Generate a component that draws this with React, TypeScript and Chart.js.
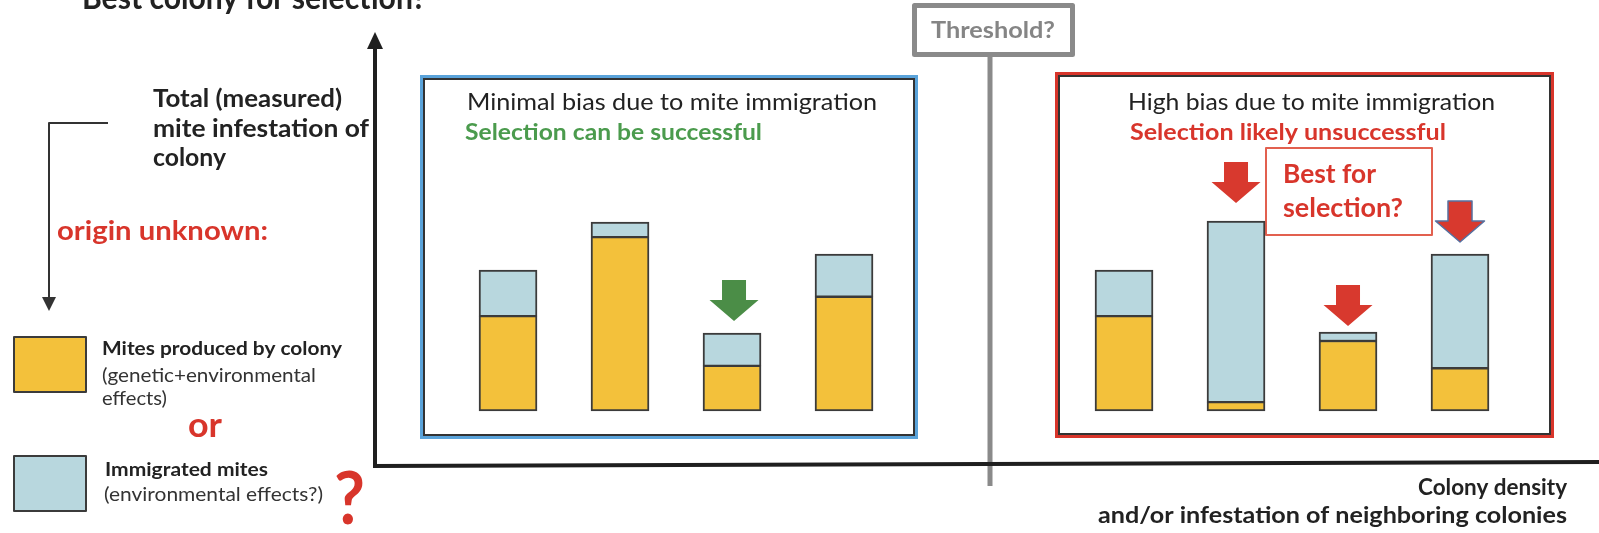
import React, { useEffect, useRef } from "react";
import { Chart, registerables } from "chart.js";

Chart.register(...registerables);

// Colony positions along the "colony density" axis (low density panel, then high density panel)
const COLONY_POSITION = [1, 2, 3, 4, 6.5, 7.5, 8.5, 9.5];
// Mites produced by colony (genetic + environmental effects)
const OWN_MITES = [20.2, 37.0, 9.6, 24.3, 20.2, 1.9, 14.9, 9.1];
// Immigrated mites (environmental effects?)
const IMMIGRATED_MITES = [9.8, 3.2, 7.0, 9.1, 9.8, 38.5, 1.9, 24.3];
// Colonies highlighted with arrows
const GREEN_ARROW_COLONIES = [2];
const RED_ARROW_COLONIES = [5, 6, 7];

const LEGEND_LABELS = ["Mites produced by colony", "Immigrated mites"];

const YELLOW = "#F3C13B";
const LIGHTBLUE = "#B8D7DE";
const BAR_BORDER = "#3b3b3b";
const RED = "#D8352B";
const GREEN = "#4B9B4D";
const DARK = "#1f1f1f";
const GRAY = "#8a8a8a";
const FONT = "Lato, 'Open Sans', sans-serif";

function fitText(
  ctx: CanvasRenderingContext2D,
  text: string,
  x: number,
  baseline: number,
  width: number,
  font: string,
  color: string
) {
  ctx.save();
  ctx.font = font;
  ctx.textBaseline = "alphabetic";
  ctx.textAlign = "left";
  const w = ctx.measureText(text).width;
  ctx.translate(x, baseline);
  ctx.scale(width / w, 1);
  ctx.fillStyle = color;
  ctx.fillText(text, 0, 0);
  ctx.restore();
}

function downArrow(
  ctx: CanvasRenderingContext2D,
  cx: number,
  tipY: number,
  color: string,
  outline?: string
) {
  const headHalf = 24.5;
  const shaftHalf = 12;
  const headH = 21;
  const shaftH = 20;
  ctx.save();
  ctx.beginPath();
  ctx.moveTo(cx - shaftHalf, tipY - headH - shaftH);
  ctx.lineTo(cx + shaftHalf, tipY - headH - shaftH);
  ctx.lineTo(cx + shaftHalf, tipY - headH);
  ctx.lineTo(cx + headHalf, tipY - headH);
  ctx.lineTo(cx, tipY);
  ctx.lineTo(cx - headHalf, tipY - headH);
  ctx.lineTo(cx - shaftHalf, tipY - headH);
  ctx.closePath();
  ctx.fillStyle = color;
  ctx.fill();
  if (outline) {
    ctx.strokeStyle = outline;
    ctx.lineWidth = 1.5;
    ctx.stroke();
  }
  ctx.restore();
}

function panelBox(
  ctx: CanvasRenderingContext2D,
  x0: number,
  y0: number,
  x1: number,
  y1: number,
  color: string
) {
  ctx.save();
  ctx.fillStyle = "#ffffff";
  ctx.fillRect(x0, y0, x1 - x0, y1 - y0);
  ctx.strokeStyle = color;
  ctx.lineWidth = 5;
  ctx.strokeRect(x0 + 2.5, y0 + 2.5, x1 - x0 - 5, y1 - y0 - 5);
  ctx.strokeStyle = "#333333";
  ctx.lineWidth = 2;
  ctx.strokeRect(x0 + 4, y0 + 4, x1 - x0 - 8, y1 - y0 - 8);
  ctx.restore();
}

const decorations = {
  id: "decorations",
  beforeDatasetsDraw(chart: any) {
    const ctx: CanvasRenderingContext2D = chart.ctx;
    ctx.save();

    // Panels
    panelBox(ctx, 420, 75, 918, 439, "#5AA3DA");
    panelBox(ctx, 1055, 72, 1554, 438, RED);

    // Threshold line + box
    ctx.strokeStyle = GRAY;
    ctx.lineWidth = 5;
    ctx.beginPath();
    ctx.moveTo(990, 55);
    ctx.lineTo(990, 486);
    ctx.stroke();

    // Axes
    ctx.strokeStyle = DARK;
    ctx.lineWidth = 4;
    ctx.beginPath();
    ctx.moveTo(373, 466);
    ctx.lineTo(1599, 462);
    ctx.stroke();
    ctx.beginPath();
    ctx.moveTo(375, 468);
    ctx.lineTo(375, 45);
    ctx.stroke();
    ctx.fillStyle = DARK;
    ctx.beginPath();
    ctx.moveTo(375, 32);
    ctx.lineTo(383, 49);
    ctx.lineTo(367, 49);
    ctx.closePath();
    ctx.fill();

    ctx.fillStyle = "#ffffff";
    ctx.fillRect(914, 5, 159, 50);
    ctx.strokeStyle = GRAY;
    ctx.lineWidth = 5;
    ctx.lineJoin = "round";
    ctx.strokeRect(914.5, 5.5, 158, 49);
    fitText(ctx, "Threshold?", 931, 38, 124, `bold 22px ${FONT}`, "#858585");

    // Cut-off heading
    fitText(ctx, "Best colony for selection?", 82, 9, 344, `bold 32px ${FONT}`, "#222");

    // Y axis description
    fitText(ctx, "Total (measured)", 153, 107, 189, `bold 24px ${FONT}`, "#222");
    fitText(ctx, "mite infestation of", 153, 137, 216, `bold 24px ${FONT}`, "#222");
    fitText(ctx, "colony", 153, 166, 73, `bold 24px ${FONT}`, "#222");

    // bracket arrow
    ctx.strokeStyle = "#333";
    ctx.lineWidth = 2;
    ctx.beginPath();
    ctx.moveTo(108, 123);
    ctx.lineTo(49, 123);
    ctx.lineTo(49, 298);
    ctx.stroke();
    ctx.fillStyle = "#333";
    ctx.beginPath();
    ctx.moveTo(42, 297);
    ctx.lineTo(56, 297);
    ctx.lineTo(49, 311);
    ctx.closePath();
    ctx.fill();

    fitText(ctx, "origin unknown:", 57, 240, 211, `bold 26px ${FONT}`, RED);

    // Legend
    ctx.lineWidth = 2;
    ctx.strokeStyle = BAR_BORDER;
    ctx.fillStyle = YELLOW;
    ctx.fillRect(14, 337, 72, 55);
    ctx.strokeRect(14, 337, 72, 55);
    ctx.fillStyle = LIGHTBLUE;
    ctx.fillRect(14, 456, 72, 55);
    ctx.strokeRect(14, 456, 72, 55);

    fitText(ctx, LEGEND_LABELS[0], 102, 355, 240, `bold 18.5px ${FONT}`, "#222");
    fitText(ctx, "(genetic+environmental", 102, 382, 214, `19px ${FONT}`, "#333");
    fitText(ctx, "effects)", 102, 405, 65, `19px ${FONT}`, "#333");
    fitText(ctx, "or", 188, 437, 34, `bold 35px ${FONT}`, RED);
    fitText(ctx, LEGEND_LABELS[1], 105, 476, 163, `bold 18.5px ${FONT}`, "#222");
    fitText(ctx, "(environmental effects?)", 104, 501, 219, `19px ${FONT}`, "#333");
    fitText(ctx, "?", 334, 524, 31, `bold 72px ${FONT}`, RED);

    // Panel texts
    fitText(ctx, "Minimal bias due to mite immigration", 467, 110, 410, `23px ${FONT}`, "#222");
    fitText(ctx, "Selection can be successful", 465, 140, 297, `bold 22px ${FONT}`, GREEN);
    fitText(ctx, "High bias due to mite immigration", 1128, 110, 367, `23px ${FONT}`, "#222");
    fitText(ctx, "Selection likely unsuccessful", 1130, 140, 316, `bold 22px ${FONT}`, RED);

    // "Best for selection?" box
    ctx.fillStyle = "#fff";
    ctx.fillRect(1266, 148, 166, 87);
    ctx.strokeStyle = "#E2604F";
    ctx.lineWidth = 2;
    ctx.strokeRect(1266, 148, 166, 87);
    fitText(ctx, "Best for", 1283, 183, 93, `bold 26px ${FONT}`, RED);
    fitText(ctx, "selection?", 1283, 217, 120, `bold 26px ${FONT}`, RED);

    // X axis description
    fitText(ctx, "Colony density", 1418, 495, 149, `bold 23px ${FONT}`, "#222");
    fitText(ctx, "and/or infestation of neighboring colonies", 1098, 523, 469, `bold 23px ${FONT}`, "#222");

    // Arrows above highlighted bars
    const topMeta = chart.getDatasetMeta(1);
    GREEN_ARROW_COLONIES.forEach((i) => {
      const el = topMeta.data[i];
      downArrow(ctx, el.x + 2, el.y - 12, "#4B8D47");
    });
    const redGaps = [18, 6, 12];
    RED_ARROW_COLONIES.forEach((i, k) => {
      const el = topMeta.data[i];
      downArrow(ctx, el.x, el.y - redGaps[k], "#D8392E", k === 2 ? "#5570A0" : undefined);
    });

    ctx.restore();
  },
};

export default function App() {
  const ref = useRef<HTMLCanvasElement | null>(null);
  useEffect(() => {
    if (!ref.current) return;
    const chart = new Chart(ref.current, {
      type: "bar",
      data: {
        datasets: [
          {
            label: LEGEND_LABELS[0],
            data: COLONY_POSITION.map((x, i) => ({ x, y: OWN_MITES[i] })),
            backgroundColor: YELLOW,
            borderColor: BAR_BORDER,
            borderWidth: { left: 2, right: 2, bottom: 2, top: 1.5 },
            borderSkipped: false,
            stack: "colony",
            barThickness: 58,
          },
          {
            label: LEGEND_LABELS[1],
            data: COLONY_POSITION.map((x, i) => ({ x, y: IMMIGRATED_MITES[i] })),
            backgroundColor: LIGHTBLUE,
            borderColor: BAR_BORDER,
            borderWidth: { left: 2, right: 2, top: 2, bottom: 1.5 },
            borderSkipped: false,
            stack: "colony",
            barThickness: 58,
          },
        ],
      },
      options: {
        animation: false,
        responsive: false,
        devicePixelRatio: 1,
        layout: { padding: 0 },
        plugins: {
          legend: { display: false },
          tooltip: { enabled: false },
          title: { display: false },
        },
        scales: {
          x: { type: "linear", min: -3.536, max: 10.741, offset: false, display: false },
          y: { stacked: true, min: -25.96, max: 87.45, display: false },
        },
      },
      plugins: [decorations],
    } as any);
    return () => chart.destroy();
  }, []);
  return (
    <div style={{ position: "absolute", left: 0, top: 0, width: 1599, height: 533, background: "#fff" }}>
      <canvas ref={ref} width={1599} height={533} style={{ display: "block" }} />
    </div>
  );
}
